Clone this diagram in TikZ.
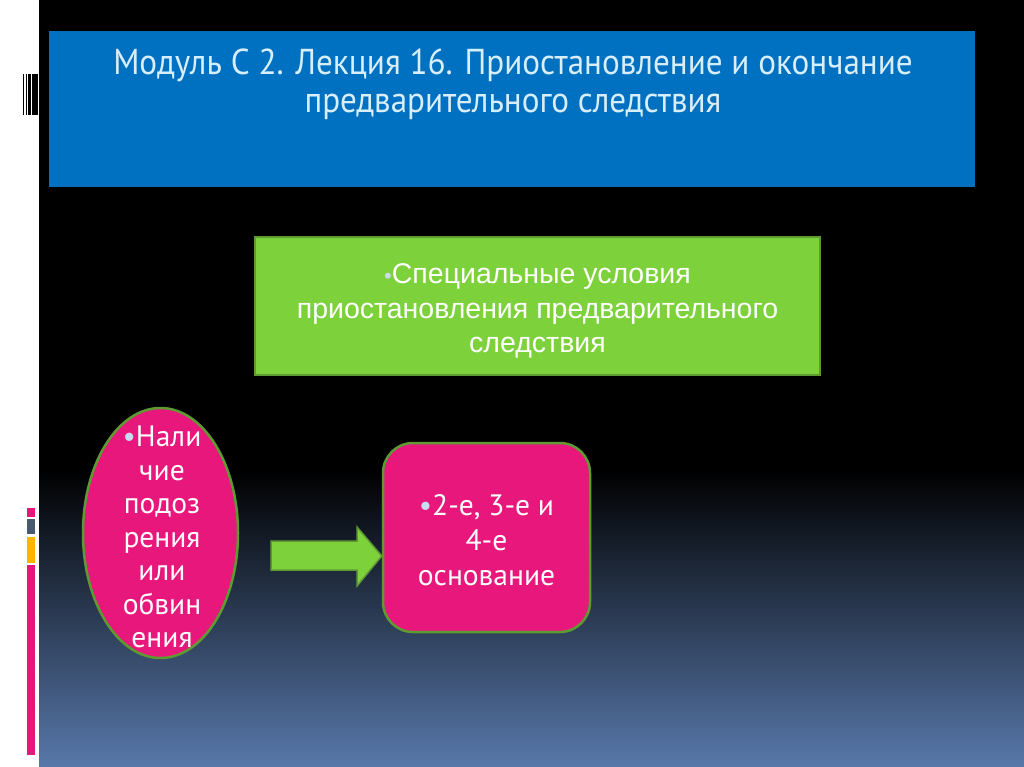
\documentclass[tikz,border=0pt]{standalone}
\usepackage{fontspec}
\setmainfont{PT Sans}
\newfontfamily\titlefont[FakeStretch=0.92]{PT Sans}
\newfontfamily\arialfont{Liberation Sans}
\usetikzlibrary{shapes.geometric}
\definecolor{titleblue}{HTML}{0070C0}
\definecolor{titletext}{HTML}{D8EEFA}
\definecolor{boxgreen}{HTML}{7DD13B}
\definecolor{edgegreen}{HTML}{5E9A32}
\definecolor{shapepink}{HTML}{E8177B}
\definecolor{bulletblue}{HTML}{C8DCF0}
\definecolor{bottomblue}{HTML}{5878AA}
\definecolor{barpink}{HTML}{E6177B}
\definecolor{bargray}{HTML}{4A5A6E}
\definecolor{baryellow}{HTML}{FFB400}
\begin{document}
\begin{tikzpicture}[x=1pt,y=-1pt,
  greenbox/.style={draw=edgegreen,line width=2pt,fill=boxgreen,inner sep=0pt},
  pinkshape/.style={draw=edgegreen,line width=2.5pt,fill=shapepink,inner sep=0pt},
  pinktext/.style={text=white,font=\fontsize{29.5}{33.5}\selectfont,align=center,inner sep=0pt},
  arrowshape/.style={draw=edgegreen,line width=1.5pt,fill=boxgreen,line join=miter}
]
\useasboundingbox (0,0) rectangle (1024,767);
% background
\fill[white] (0,0) rectangle (1024,767);
\fill[black] (39,0) rectangle (1024,471);
\shade[top color=black,bottom color=bottomblue] (39,470) rectangle (1024,767);
% barcode
\fill[black] (22.7,74) rectangle (24,115);
\fill[black] (26,74) rectangle (27.2,115);
\fill[black] (28.3,74) rectangle (31,115);
\fill[black] (32.3,74) rectangle (38,115);
% coloured bars
\fill[barpink] (27,508) rectangle (35,517);
\fill[bargray] (27,519) rectangle (35,534);
\fill[baryellow] (27,537) rectangle (35,563);
\fill[barpink] (27,565) rectangle (35,755);
% title
\node[fill=titleblue,minimum width=926pt,minimum height=156pt,inner sep=0pt,anchor=north west] (titlebox) at (49,31) {};
\node[text=titletext,font=\titlefont\fontsize{36}{38}\selectfont,align=center,anchor=north,inner sep=0pt] (title) at (513,49)
  {Модуль С 2. Лекция 16. Приостановление и окончание\\предварительного следствия};
% green box
\node[greenbox,minimum width=565pt,minimum height=138pt] (cond) at (537.5,306) {};
\node[text=white,font=\arialfont\fontsize{28.5}{34.5}\selectfont,align=center,inner sep=0pt] (condtext) at (537.5,311)
  {\textcolor{bulletblue}{\fontsize{22}{22}\selectfont•}Специальные условия\\приостановления предварительного\\следствия};
% ellipse
\node[pinkshape,ellipse,minimum width=155pt,minimum height=250pt] (susp) at (160.5,533) {};
\node[pinktext] (susptext) at (162,537)
  {\textcolor{bulletblue}{•}Нали\\чие\\подоз\\рения\\или\\обвин\\ения};
% rounded box
\node[pinkshape,rounded corners=30pt,minimum width=207pt,minimum height=189pt] (grounds) at (486.5,537.5) {};
\node[pinktext,font=\fontsize{29.5}{35}\selectfont] (groundstext) at (486.5,540)
  {\textcolor{bulletblue}{•}2-е, 3-е и\\4-е\\основание};
% block arrow
\coordinate (a1) at (271,541);
\coordinate (a2) at (357,541);
\coordinate (a3) at (357,527);
\coordinate (tip) at (grounds.west|-0,556);
\coordinate (a5) at (357,586);
\coordinate (a6) at (357,570);
\coordinate (a7) at (271,570);
\draw[arrowshape] (a1) -- (a2) -- (a3) -- (tip) -- (a5) -- (a6) -- (a7) -- cycle;
\end{tikzpicture}
\end{document}
